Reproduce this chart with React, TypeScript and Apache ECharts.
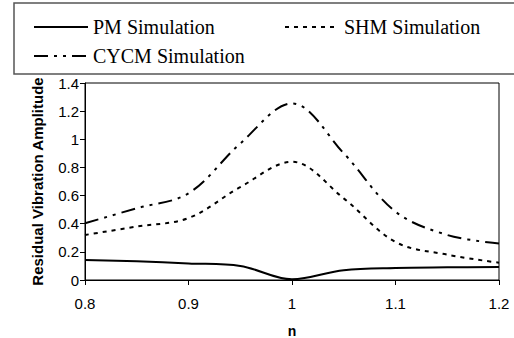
import React, { useEffect, useRef } from "react";
import * as echarts from "echarts";

const nValues = [0.8, 0.85, 0.9, 0.95, 1.0, 1.05, 1.1, 1.15, 1.2];
const pmSimulation = [0.142, 0.133, 0.118, 0.1, 0.005, 0.07, 0.086, 0.09, 0.092];
const shmSimulation = [0.32, 0.38, 0.44, 0.66, 0.84, 0.58, 0.27, 0.18, 0.123];
const cycmSimulation = [0.403, 0.51, 0.616, 0.97, 1.255, 0.9, 0.486, 0.32, 0.26];
const seriesNames = ["PM Simulation", "SHM Simulation", "CYCM Simulation"];
const yTitle = "Residual Vibration Amplitude";
const xTitle = "n";

const pair = (ys: number[]) => nValues.map((x, i) => [x, ys[i]]);

export default function App() {
  const ref = useRef<HTMLDivElement>(null);
  useEffect(() => {
    if (!ref.current) return;
    const chart = echarts.init(ref.current, undefined, { renderer: "svg" });
    const legendText = {
      fontFamily: "Liberation Serif",
      fontSize: 20,
      color: "#000",
    };
    const legendCommon = {
      orient: "horizontal" as const,
      padding: 0,
      itemWidth: 54,
      itemHeight: 14,
      itemStyle: { color: "rgba(0,0,0,0)", borderColor: "rgba(0,0,0,0)", borderWidth: 0, opacity: 0 },
      textStyle: legendText,
      selectedMode: false,
      z: 20,
    };
    chart.setOption({
      animation: false,
      backgroundColor: "#fff",
      graphic: [
        {
          type: "rect",
          shape: { x: 14, y: 3, width: 520, height: 71 },
          style: { fill: "#fff", stroke: "#555", lineWidth: 1.5 },
          z: 10,
        },
      ],
      legend: [
        { ...legendCommon, data: [seriesNames[0]], left: 33, top: 17 },
        { ...legendCommon, data: [seriesNames[1]], left: 284, top: 17 },
        { ...legendCommon, data: [seriesNames[2]], left: 33, top: 46 },
      ],
      grid: {
        left: 85,
        right: 15,
        top: 83,
        bottom: 58,
        show: true,
        borderColor: "#000",
        borderWidth: 1,
        containLabel: false,
        outerBoundsMode: "none",
      },
      xAxis: {
        type: "value",
        min: 0.8,
        max: 1.2,
        interval: 0.1,
        name: xTitle,
        nameLocation: "middle",
        nameGap: 44,
        nameTextStyle: {
          fontFamily: "Liberation Sans",
          fontWeight: "bold",
          fontSize: 14,
          color: "#000",
        },
        axisLine: { lineStyle: { color: "#000", width: 1 } },
        axisTick: { show: true, length: 5, inside: false, lineStyle: { color: "#000" } },
        axisLabel: {
          margin: 16,
          fontFamily: "Liberation Sans",
          fontSize: 15,
          color: "#000",
        },
        splitLine: { show: false },
      },
      yAxis: {
        type: "value",
        min: 0,
        max: 1.4,
        interval: 0.2,
        name: yTitle,
        nameLocation: "middle",
        nameGap: 40,
        nameTextStyle: {
          fontFamily: "Liberation Sans",
          fontWeight: "bold",
          fontSize: 15,
          color: "#000",
        },
        axisLine: { show: true, lineStyle: { color: "#000", width: 1 } },
        axisTick: { show: true, length: 5, inside: false, lineStyle: { color: "#000" } },
        axisLabel: {
          margin: 6,
          fontFamily: "Liberation Sans",
          fontSize: 15,
          color: "#000",
        },
        splitLine: { show: false },
      },
      series: [
        {
          name: seriesNames[0],
          type: "line",
          data: pair(pmSimulation),
          smooth: 0.35,
          symbol: "none",
          lineStyle: { color: "#000", width: 2, type: "solid" },
          itemStyle: { color: "#000" },
        },
        {
          name: seriesNames[1],
          type: "line",
          data: pair(shmSimulation),
          smooth: 0.35,
          symbol: "none",
          lineStyle: { color: "#000", width: 2, type: [4, 5] },
          itemStyle: { color: "#000" },
        },
        {
          name: seriesNames[2],
          type: "line",
          data: pair(cycmSimulation),
          smooth: 0.35,
          symbol: "none",
          lineStyle: { color: "#000", width: 2, type: [14, 6, 3, 6, 3, 6] },
          itemStyle: { color: "#000" },
        },
      ],
    });
    return () => chart.dispose();
  }, []);
  return <div ref={ref} style={{ width: 514, height: 338, position: "absolute", left: 0, top: 0 }} />;
}
